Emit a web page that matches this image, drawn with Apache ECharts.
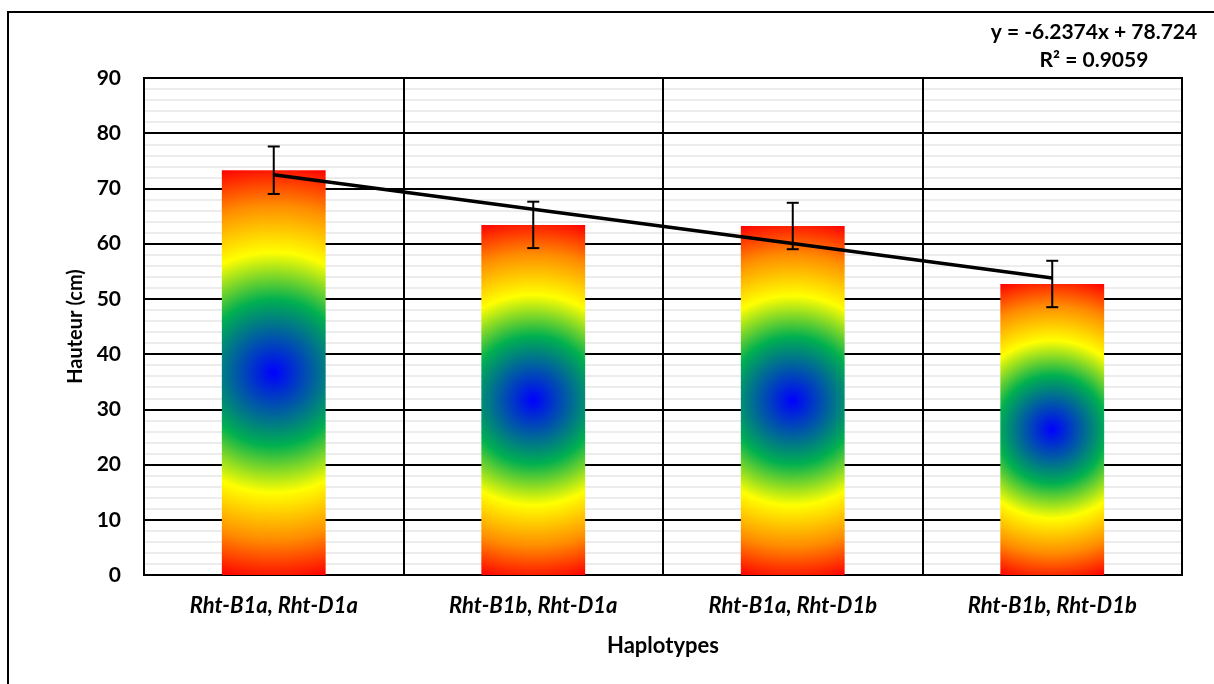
<!DOCTYPE html>
<html>
<head>
<meta charset="utf-8">
<script src="https://cdn.jsdelivr.net/npm/echarts@6/dist/echarts.min.js"></script>
<style>
  html, body { margin: 0; padding: 0; background: #fff; }
  #chart { width: 1214px; height: 684px; }
</style>
</head>
<body>
<div id="chart"></div>
<script>
// Plant height by Rht haplotype
const categories = ['Rht-B1a, Rht-D1a', 'Rht-B1b, Rht-D1a', 'Rht-B1a, Rht-D1b', 'Rht-B1b, Rht-D1b'];
const heights = [73.3, 63.4, 63.2, 52.7];
const errors = [4.3, 4.2, 4.2, 4.2];
const yTicks = [0, 10, 20, 30, 40, 50, 60, 70, 80, 90];

// Linear trend fitted on haplotype rank (1..4)
const trendSlope = -6.2374;
const trendIntercept = 78.724;
const trendR2 = 0.9059;

const FONT = 'Lato, "Open Sans", sans-serif';
const GRID = { left: 144, right: 32, top: 78, bottom: 109 };
const CHART_W = 1214, CHART_H = 684;
const BAR_RATIO = 0.4;

const yMax = yTicks[yTicks.length - 1];
const gridW = CHART_W - GRID.left - GRID.right;
const gridH = CHART_H - GRID.top - GRID.bottom;
const barW = gridW / categories.length * BAR_RATIO;

// Radial fill (blue core → green → yellow → red rim) reaching the bar corners
function barFill(value) {
  const h = value / yMax * gridH;
  const halfDiag = Math.sqrt((barW / 2) ** 2 + (h / 2) ** 2);
  const r = halfDiag / Math.min(barW, h);
  return new echarts.graphic.RadialGradient(0.5, 0.5, r, [
    { offset: 0, color: '#0000ff' },
    { offset: 0.35, color: '#00b050' },
    { offset: 0.575, color: '#ffff00' },
    { offset: 0.8, color: '#ff8c00' },
    { offset: 1, color: '#ff0000' }
  ]);
}

const trendData = categories.map((c, i) => +(trendSlope * (i + 1) + trendIntercept).toFixed(3));
const errorData = heights.map((v, i) => [i, v - errors[i], v + errors[i]]);

const chart = echarts.init(document.getElementById('chart'), null, { renderer: 'canvas' });

chart.setOption({
  animation: false,
  backgroundColor: '#ffffff',
  grid: { left: GRID.left, right: GRID.right, top: GRID.top, bottom: GRID.bottom,
          show: true, borderColor: '#000', borderWidth: 2, backgroundColor: 'transparent' },
  xAxis: {
    type: 'category',
    data: categories,
    name: 'Haplotypes',
    nameLocation: 'middle',
    nameGap: 60,
    nameTextStyle: { fontFamily: FONT, fontWeight: 'bold', fontSize: 22, color: '#000' },
    axisLine: { show: true, lineStyle: { color: '#000', width: 2 } },
    axisTick: { show: false },
    axisLabel: { margin: 20, fontFamily: FONT, fontWeight: 'bold', fontStyle: 'italic', fontSize: 22, color: '#000' },
    splitLine: { show: true, lineStyle: { color: '#000', width: 2 } }
  },
  yAxis: {
    type: 'value',
    min: yTicks[0],
    max: yMax,
    interval: yTicks[1] - yTicks[0],
    name: 'Hauteur (cm)',
    nameLocation: 'middle',
    nameGap: 58,
    nameTextStyle: { fontFamily: FONT, fontWeight: 'bold', fontSize: 20, color: '#000' },
    axisLine: { show: true, lineStyle: { color: '#000', width: 2 } },
    axisTick: { show: false },
    axisLabel: { margin: 23, fontFamily: FONT, fontWeight: 'bold', fontSize: 21, color: '#000' },
    splitLine: { show: true, lineStyle: { color: '#000', width: 2 } },
    minorTick: { show: false, splitNumber: 5 },
    minorSplitLine: { show: true, lineStyle: { color: '#ececec', width: 2 } }
  },
  series: [
    {
      type: 'bar',
      data: heights.map(v => ({ value: v, itemStyle: { color: barFill(v) } })),
      barWidth: (BAR_RATIO * 100) + '%',
      z: 2
    },
    {
      type: 'custom',
      z: 3,
      data: errorData,
      renderItem: function (params, api) {
        const x = api.coord([api.value(0), api.value(1)])[0];
        const yLow = api.coord([api.value(0), api.value(1)])[1];
        const yHigh = api.coord([api.value(0), api.value(2)])[1];
        const cap = 6;
        const style = { stroke: '#000', lineWidth: 2 };
        return {
          type: 'group',
          children: [
            { type: 'line', shape: { x1: x, y1: yLow, x2: x, y2: yHigh }, style },
            { type: 'line', shape: { x1: x - cap, y1: yHigh, x2: x + cap, y2: yHigh }, style },
            { type: 'line', shape: { x1: x - cap, y1: yLow, x2: x + cap, y2: yLow }, style }
          ]
        };
      }
    },
    {
      type: 'line',
      z: 4,
      data: trendData,
      symbol: 'none',
      lineStyle: { color: '#000', width: 3.5 }
    }
  ],
  graphic: [
    {
      type: 'rect',
      shape: { x: 8, y: 12, width: 1220, height: 700 },
      style: { fill: 'none', stroke: '#000', lineWidth: 2 },
      silent: true
    },
    {
      type: 'text',
      x: 1094, y: 32,
      style: {
        text: 'y = ' + trendSlope + 'x + ' + trendIntercept,
        fontFamily: FONT, fontWeight: 'bold', fontSize: 21, fill: '#000',
        textAlign: 'center', textVerticalAlign: 'middle'
      }
    },
    {
      type: 'text',
      x: 1094, y: 60,
      style: {
        text: 'R² = ' + trendR2,
        fontFamily: FONT, fontWeight: 'bold', fontSize: 21, fill: '#000',
        textAlign: 'center', textVerticalAlign: 'middle'
      }
    }
  ]
});
</script>
</body>
</html>
